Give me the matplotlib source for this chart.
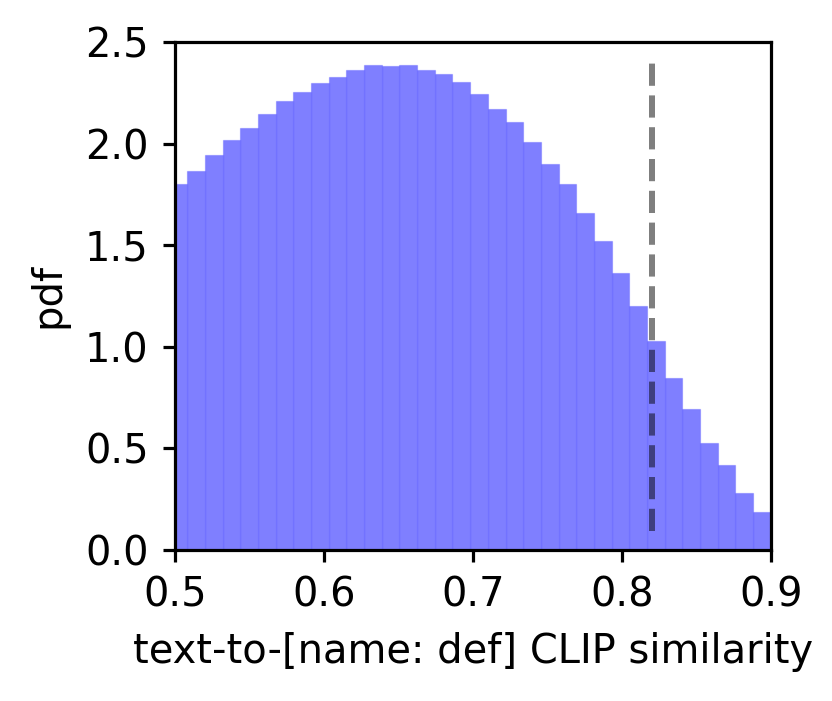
import numpy as np
import matplotlib
matplotlib.use("Agg")
import matplotlib.pyplot as plt

# histogram of similarity values (density)
bin_start = 0.4964
bin_width = 0.011865
pdf_values = [1.80, 1.866, 1.942, 2.018, 2.079, 2.144, 2.21, 2.256, 2.30, 2.327,
              2.36, 2.385, 2.381, 2.385, 2.36, 2.342, 2.305, 2.244, 2.172, 2.104,
              2.01, 1.90, 1.80, 1.656, 1.521, 1.363, 1.20, 1.028, 0.847, 0.693,
              0.526, 0.416, 0.276, 0.187]
threshold = 0.82

bin_edges = bin_start + bin_width * np.arange(len(pdf_values) + 1)

dpi = 288
fig = plt.figure(figsize=(832 / dpi, 701 / dpi), dpi=dpi)
ax = fig.add_axes([0.2103, 0.2161, 0.7164, 0.7239])

ax.bar(bin_edges[:-1], pdf_values, width=bin_width, align="edge",
       color="blue", alpha=0.5, linewidth=0.3, edgecolor=(0.45, 0.45, 1.0, 0.4))
ax.vlines(threshold, 0.09, 2.4, colors="k", alpha=0.5, linestyles="--", linewidth=1.5)

ax.set_xlim(0.5, 0.9)
ax.set_ylim(0, 2.5)
ax.set_xticks([0.5, 0.6, 0.7, 0.8, 0.9])
ax.set_yticks([0.0, 0.5, 1.0, 1.5, 2.0, 2.5])
ax.tick_params(length=3.1)
ax.set_xlabel("text-to-[name: def] CLIP similarity")
ax.set_ylabel("pdf")

fig.savefig("out.png", dpi=dpi)
